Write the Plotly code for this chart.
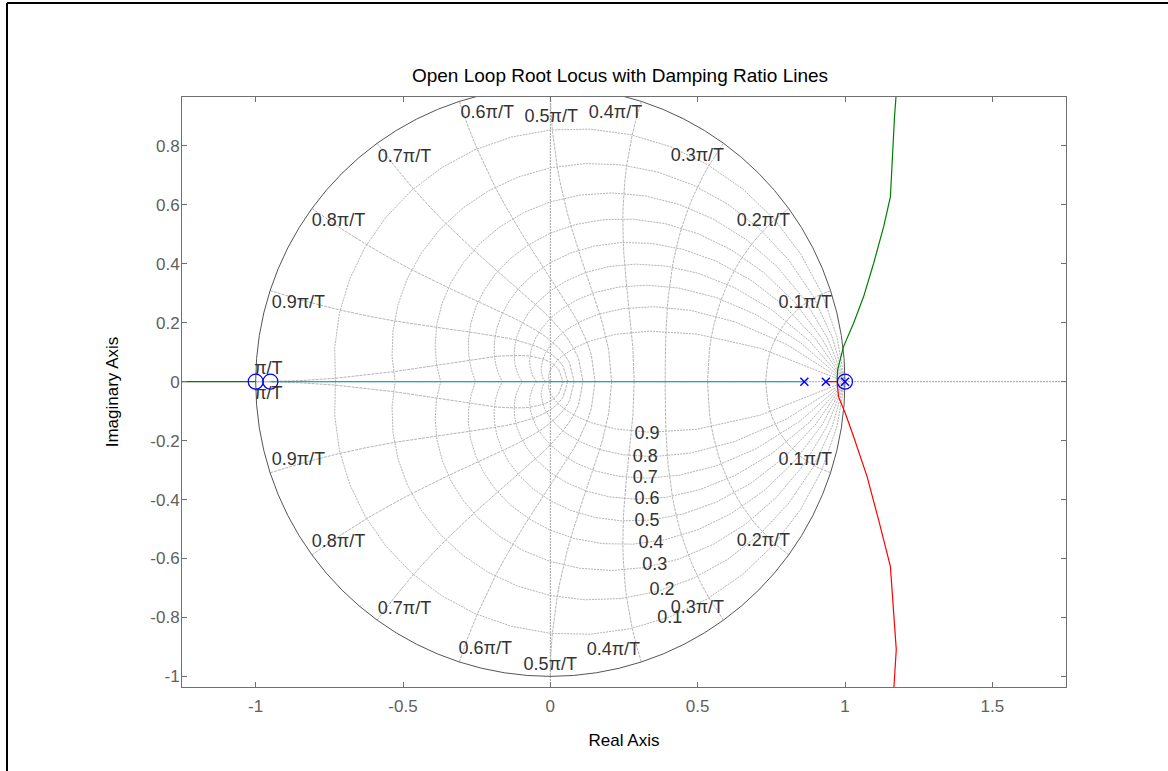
import numpy as np
import plotly.graph_objects as go

# ---------------- data ----------------
zeta_values = [0.1, 0.2, 0.3, 0.4, 0.5, 0.6, 0.7, 0.8, 0.9]
wn_values = [0.1, 0.2, 0.3, 0.4, 0.5, 0.6, 0.7, 0.8, 0.9, 1.0]  # times pi/T

poles_x = [0.862, 0.935, 1.0]
poles_y = [0.0, 0.0, 0.0]
zeros_x = [-1.0, -0.95, 1.0]
zeros_y = [0.0, 0.0, 0.0]

green_x = [0.973, 0.975, 0.995, 1.029, 1.063, 1.097, 1.131, 1.154, 1.168, 1.173]
green_y = [0.0, 0.040, 0.119, 0.198, 0.288, 0.401, 0.525, 0.627, 0.898, 0.966]
red_x = [0.935, 0.973, 0.978, 1.001, 1.029, 1.063, 1.075, 1.114, 1.148, 1.154, 1.174, 1.166]
red_y = [0.0, 0.0, -0.051, -0.107, -0.186, -0.288, -0.322, -0.469, -0.604, -0.627, -0.909, -1.036]
green_real_x = [-1.25, -1.0]
green_real_y = [0.0, 0.0]
cyan_x = [-0.95, 0.862]
cyan_y = [0.0, 0.0]

wn_label_text = ["0.1π/T", "0.2π/T", "0.3π/T", "0.4π/T", "0.5π/T", "0.6π/T", "0.7π/T",
                 "0.8π/T", "0.9π/T", "π/T",
                 "π/T", "0.9π/T", "0.8π/T", "0.7π/T", "0.6π/T", "0.5π/T", "0.4π/T",
                 "0.3π/T", "0.2π/T", "0.1π/T"]
wn_label_x = [0.865, 0.723, 0.499, 0.221, 0.003, -0.214, -0.495, -0.719, -0.855, -0.957,
              -0.957, -0.855, -0.719, -0.495, -0.221, 0.0, 0.214, 0.499, 0.723, 0.865]
wn_label_y = [0.267, 0.544, 0.765, 0.911, 0.897, 0.911, 0.762, 0.544, 0.267, 0.040,
              -0.045, -0.269, -0.547, -0.774, -0.910, -0.964, -0.913, -0.770, -0.543, -0.269]

zeta_label_text = ["0.9", "0.8", "0.7", "0.6", "0.5", "0.4", "0.3", "0.2", "0.1"]
zeta_label_x = [0.328, 0.322, 0.322, 0.328, 0.328, 0.342, 0.354, 0.379, 0.405]
zeta_label_y = [-0.178, -0.256, -0.330, -0.401, -0.475, -0.548, -0.624, -0.709, -0.802]

x_ticks = [-1, -0.5, 0, 0.5, 1, 1.5]
x_tick_text = ["-1", "-0.5", "0", "0.5", "1", "1.5"]
y_ticks = [-1, -0.8, -0.6, -0.4, -0.2, 0, 0.2, 0.4, 0.6, 0.8]
y_tick_text = ["-1", "-0.8", "-0.6", "-0.4", "-0.2", "0", "0.2", "0.4", "0.6", "0.8"]

x_range = [-1.25, 1.75]
y_range = [-1.036, 0.966]

FONT = "Arial, Liberation Sans, sans-serif"
GRID = "#b4b4b4"

# ---------------- build grid curves (zgrid) ----------------
zx, zy = [], []
for z in zeta_values:
    m = np.tan(np.arcsin(z))
    th = np.linspace(0, np.pi, 21)
    c = np.exp(th * (-m + 1j))
    for cc in (c, np.conj(c)):
        zx += list(cc.real) + [None]
        zy += list(cc.imag) + [None]

wx, wy = [], []
for w in wn_values:
    wn = w * np.pi
    ze = np.linspace(0, 1, 21)
    c = np.exp(-ze * wn + 1j * wn * np.sqrt(1 - ze ** 2))
    for cc in (c, np.conj(c)):
        wx += list(cc.real) + [None]
        wy += list(cc.imag) + [None]

ang = np.linspace(0, 2 * np.pi, 81)

fig = go.Figure()
fig.add_trace(go.Scatter(x=zx, y=zy, mode="lines", line=dict(color=GRID, width=1, dash="2px,1px"),
                         hoverinfo="skip", showlegend=False))
fig.add_trace(go.Scatter(x=wx, y=wy, mode="lines", line=dict(color=GRID, width=1, dash="3px,1px"),
                         hoverinfo="skip", showlegend=False))
fig.add_trace(go.Scatter(x=np.cos(ang), y=np.sin(ang), mode="lines",
                         line=dict(color="#555555", width=1), hoverinfo="skip", showlegend=False))

# axis lines through origin (dotted)
fig.add_shape(type="line", xref="x", yref="paper", x0=0, x1=0, y0=0, y1=1,
              line=dict(color="#a0a0a0", width=1, dash="2px,1px"), layer="below")
fig.add_shape(type="line", xref="paper", yref="y", x0=0, x1=1, y0=0, y1=0,
              line=dict(color="#a0a0a0", width=1, dash="2px,1px"), layer="below")

# root locus branches
fig.add_trace(go.Scatter(x=cyan_x, y=cyan_y, mode="lines", line=dict(color="#12acbf", width=1.2),
                         showlegend=False))
fig.add_trace(go.Scatter(x=green_real_x, y=green_real_y, mode="lines", line=dict(color="#008000", width=1.2),
                         showlegend=False))
fig.add_trace(go.Scatter(x=green_x, y=green_y, mode="lines", line=dict(color="#008000", width=1.2),
                         showlegend=False))
fig.add_trace(go.Scatter(x=red_x, y=red_y, mode="lines", line=dict(color="#ff0000", width=1.2),
                         showlegend=False))

# poles and zeros
fig.add_trace(go.Scatter(x=zeros_x, y=zeros_y, mode="markers",
                         marker=dict(symbol="circle-open", size=15, color="#0000ff", line=dict(width=1.2)),
                         showlegend=False))
fig.add_trace(go.Scatter(x=poles_x, y=poles_y, mode="markers",
                         marker=dict(symbol="x-thin-open", size=8, color="#0000ff", line=dict(width=1.5, color="#0000ff")),
                         showlegend=False))

# labels
fig.add_trace(go.Scatter(x=wn_label_x, y=wn_label_y, mode="text", text=wn_label_text,
                         textfont=dict(family=FONT, size=18, color="#333333"),
                         hoverinfo="skip", showlegend=False))
fig.add_trace(go.Scatter(x=zeta_label_x, y=zeta_label_y, mode="text", text=zeta_label_text,
                         textfont=dict(family=FONT, size=18, color="#333333"),
                         hoverinfo="skip", showlegend=False))

# outer figure frame (top and left edges visible in reference)
L, R, T, B = 182, 102, 97, 84
W, H = 1168, 771
pw, ph = W - L - R, H - T - B
def px(xp):
    return (xp - L) / pw
def py(yp):
    return (H - B - yp) / ph
fig.add_shape(type="line", xref="paper", yref="paper", x0=px(7), x1=px(1168), y0=py(3), y1=py(3),
              line=dict(color="black", width=2))
fig.add_shape(type="line", xref="paper", yref="paper", x0=px(7), x1=px(7), y0=py(3), y1=py(771),
              line=dict(color="black", width=2))

axis_common = dict(showgrid=False, zeroline=False, showline=True, linecolor="#707070", linewidth=1,
                   mirror="ticks", ticks="inside", ticklen=5, tickcolor="#707070",
                   tickfont=dict(family=FONT, size=17, color="#606060"))

fig.update_layout(
    width=W, height=H,
    margin=dict(l=L, r=R, t=T, b=B, autoexpand=False),
    paper_bgcolor="white", plot_bgcolor="white",
    title=dict(text="Open Loop Root Locus with Damping Ratio Lines", xref="container", yref="container",
               x=620 / W, xanchor="center", y=1 - 75 / H, yanchor="middle",
               font=dict(family=FONT, size=19, color="black")),
    xaxis=dict(range=x_range, tickvals=x_ticks, ticktext=x_tick_text, ticklabelstandoff=4,
               title=dict(text="Real Axis", font=dict(family=FONT, size=17, color="black"), standoff=18),
               **axis_common),
    yaxis=dict(range=y_range, tickvals=y_ticks, ticktext=y_tick_text, ticklabelstandoff=-2,
               title=dict(text="Imaginary Axis", font=dict(family=FONT, size=17, color="black"), standoff=27),
               **axis_common),
)

fig.write_html("out.html", config={"displayModeBar": False},
               post_script="document.body.style.margin='0px';document.body.style.padding='0px';")
